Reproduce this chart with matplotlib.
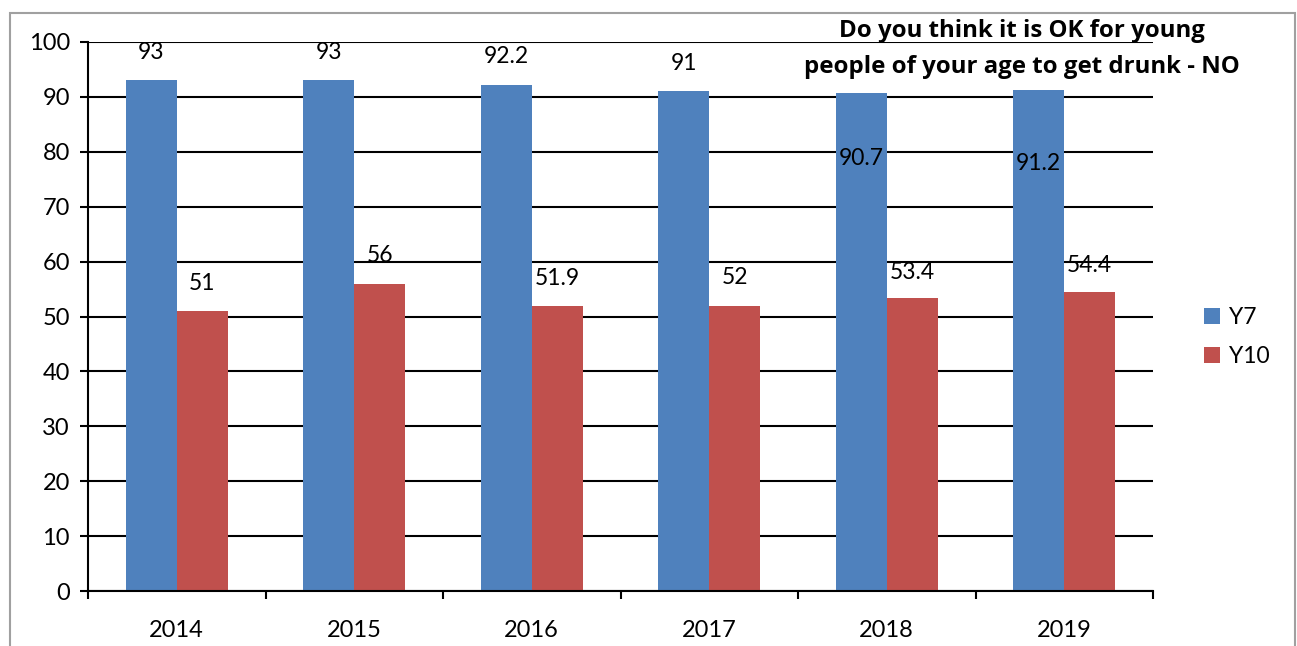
import numpy as np
import matplotlib.pyplot as plt
from matplotlib.patches import Rectangle

# datos
years = ['2014', '2015', '2016', '2017', '2018', '2019']
y7 = [93, 93, 92.2, 91, 90.7, 91.2]
y10 = [51, 56, 51.9, 52, 53.4, 54.4]

# desplazamiento vertical de las etiquetas (pixeles)
y7_label_off = [28, 28, 28, 28, -65, -73]
y10_label_off = [28, 28, 28, 28, 25, 27]

plt.rcParams['font.family'] = ['Lato', 'DejaVu Sans']

fig = plt.figure(figsize=(12.97, 6.46), dpi=100)
ax = fig.add_axes([88/1297, 1 - 591/646, (1153 - 88)/1297, (591 - 42)/646])

blue = '#4F81BD'
red = '#C0504D'
w = 0.287
x = np.arange(len(years))

ax.bar(x - w/2, y7, w, color=blue, label='Y7', zorder=3)
ax.bar(x + w/2, y10, w, color=red, label='Y10', zorder=3)

for xi, v, off in zip(x - w/2, y7, y7_label_off):
    ax.annotate(f'{v:g}', xy=(xi, v), xytext=(0, off * 0.72), textcoords='offset points',
                ha='center', va='center', fontsize=16.5, zorder=4)
for xi, v, off in zip(x + w/2, y10, y10_label_off):
    ax.annotate(f'{v:g}', xy=(xi, v), xytext=(0, off * 0.72), textcoords='offset points',
                ha='center', va='center', fontsize=16.5, zorder=4)

ax.set_xlim(-0.5, len(years) - 0.5)
ax.set_ylim(0, 100)
ax.set_yticks(range(0, 101, 10))
ax.tick_params(axis='y', labelsize=17, length=6, width=1.5, direction='out', pad=7)
ax.set_xticks(x)
ax.set_xticklabels(years)
ax.tick_params(axis='x', which='major', length=0, labelsize=17, pad=21)
ax.set_xticks(np.arange(-0.5, len(years)), minor=True)
ax.tick_params(axis='x', which='minor', length=6, width=1.5, direction='out')

ax.grid(axis='y', color='black', linewidth=1.5, zorder=0)
ax.set_axisbelow(True)
for s in ['top', 'right']:
    ax.spines[s].set_visible(False)
for s in ['left', 'bottom']:
    ax.spines[s].set_linewidth(1.5)
    ax.spines[s].set_zorder(5)

# titulo
fig.text(1022/1297, 1 - 31/646, 'Do you think it is OK for young', ha='center', va='center',
         fontsize=17.3, fontweight='bold', family='Open Sans')
fig.text(1022/1297, 1 - 67/646, 'people of your age to get drunk - NO', ha='center', va='center',
         fontsize=17.3, fontweight='bold', family='Open Sans')

# leyenda
ax.legend(loc='center left', bbox_to_anchor=(1183/1297, 1 - 337/646),
          bbox_transform=fig.transFigure, frameon=False, fontsize=16.5,
          handlelength=0.7, handleheight=0.7, handletextpad=0.4, labelspacing=0.75)

# borde
fig.patches.append(Rectangle((10/1297, -0.1), (1295 - 10)/1297, 1.1 - 13/646,
                             transform=fig.transFigure, fill=False,
                             edgecolor='#A0A0A0', linewidth=1.5))

fig.savefig('out.png', dpi=100)
